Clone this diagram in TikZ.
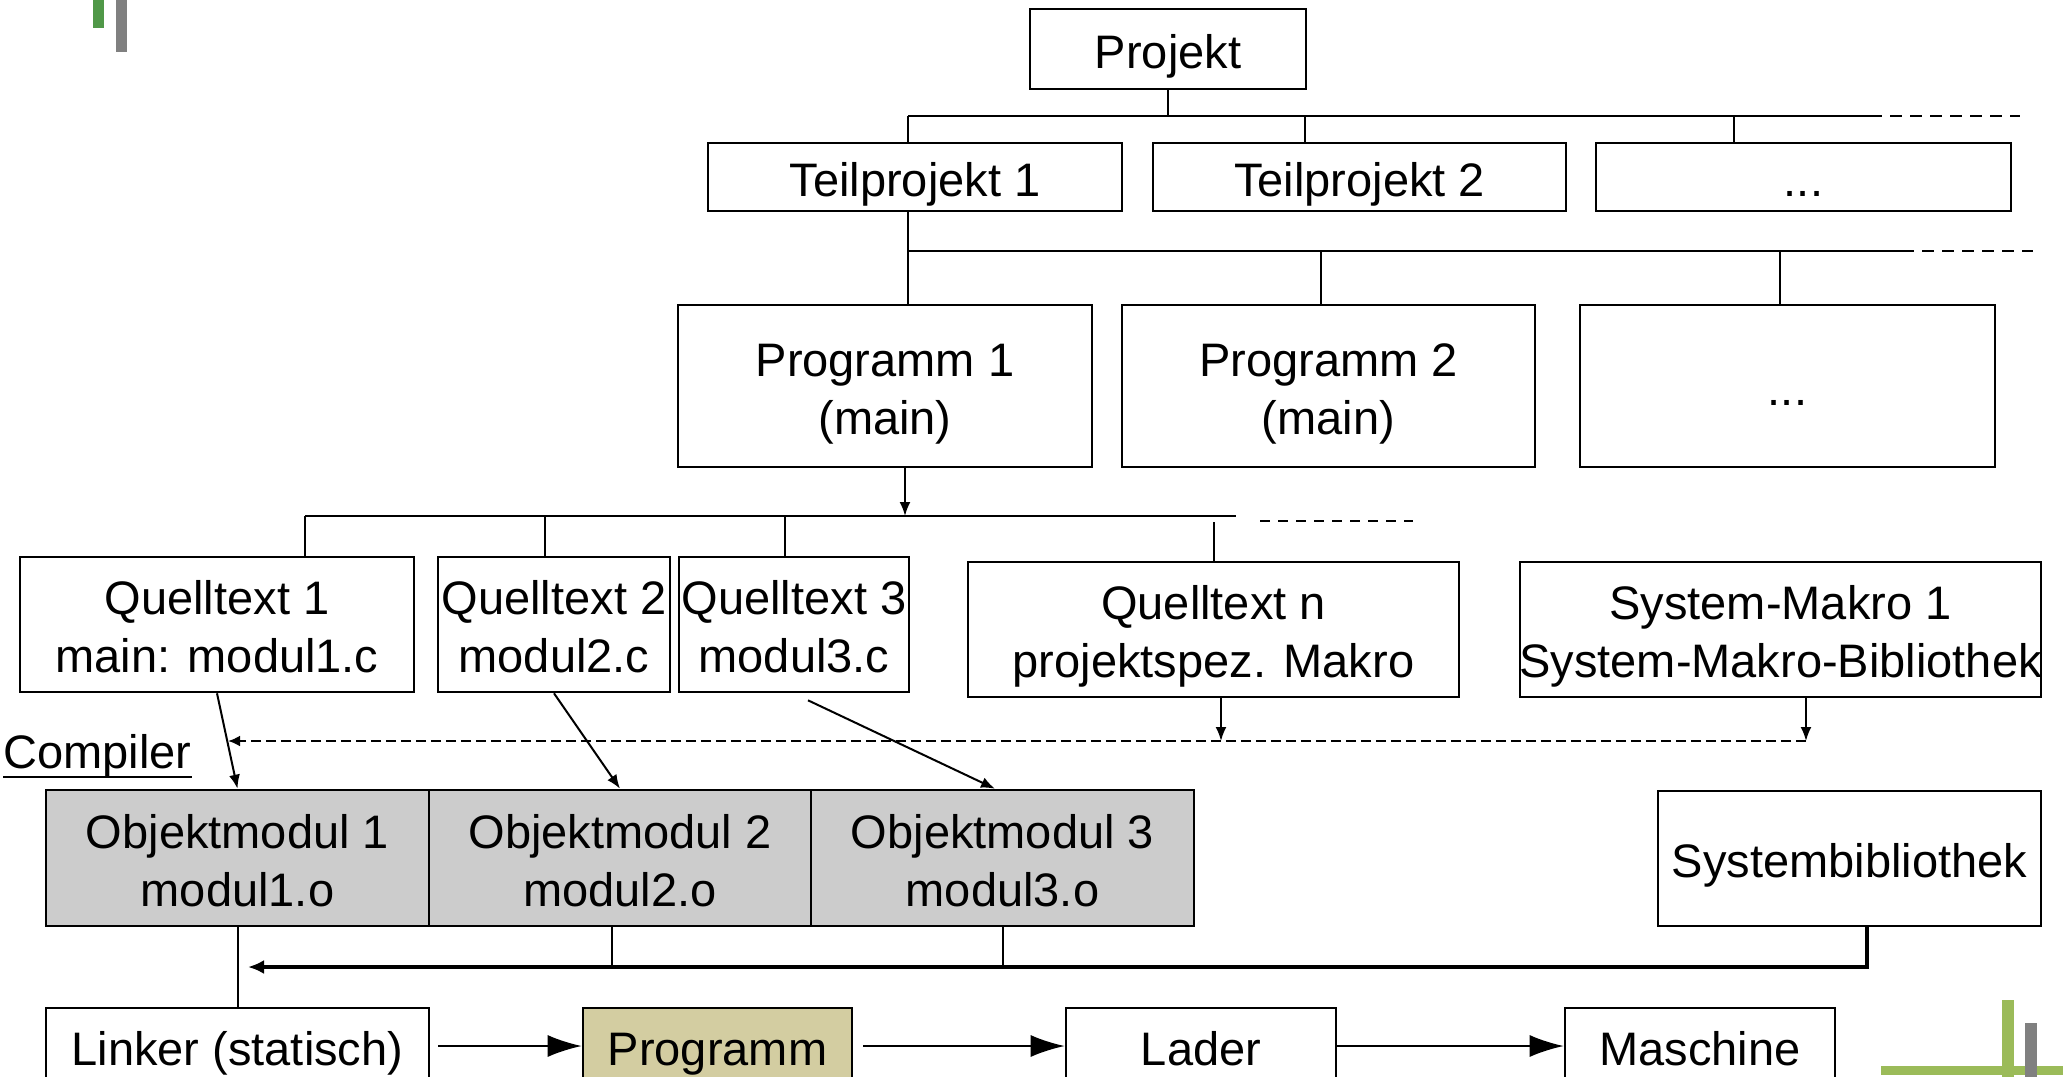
\documentclass[tikz,border=0pt]{standalone}
\usepackage{fontspec}
\setmainfont{Liberation Sans}
\usetikzlibrary{arrows.meta}
\definecolor{objgray}{RGB}{204,204,204}
\definecolor{proggold}{RGB}{211,205,161}
\definecolor{logogreen}{RGB}{80,152,72}
\definecolor{lightgreen}{RGB}{155,187,89}
\definecolor{logogray}{RGB}{128,128,128}
\newcommand\tophi{\rule{0pt}{1.07em}}
\newcommand\botlo{\rule[-0.25em]{0pt}{0.25em}}
\begin{document}
\begin{tikzpicture}[x=0.5pt, y=-0.5pt, font=\fontsize{23.5}{29}\selectfont,
  box/.style={draw, line width=1.3pt, inner sep=0pt, align=center},
  obj/.style={box, fill=objgray},
  link/.style={line width=1pt},
  small/.style={link, -{Latex[length=7pt,width=5.5pt]}},
  big/.style={link, -{Latex[length=17pt,width=11pt]}},
  more/.style={link, dash pattern=on 6pt off 4pt}]
\useasboundingbox (0,0) rectangle (2063,1077);
\clip (0,0) rectangle (2063,1077);
\fill[logogreen] (93,0) rectangle (104,28);
\fill[logogray] (116,0) rectangle (127,52);
\fill[lightgreen] (1881,1066) rectangle (2063,1075);
\fill[lightgreen] (2002,1000) rectangle (2014,1077);
\fill[logogray] (2025,1023) rectangle (2037,1077);
\node[box, minimum width=138pt, minimum height=40pt] (proj) at (1168,49) {\tophi Projekt\botlo};
\node[box, minimum width=207pt, minimum height=34pt] (teilA) at (915,177) {\tophi Teilprojekt 1\botlo};
\node[box, minimum width=206.5pt, minimum height=34pt] (teilB) at (1359.5,177) {\tophi Teilprojekt 2\botlo};
\node[box, minimum width=207.5pt, minimum height=34pt] (teilC) at (1803.5,177) {\tophi ...\botlo};
\node[box, minimum width=207pt, minimum height=81pt] (progA) at (885,386) {\tophi Programm 1\\(main)\botlo};
\node[box, minimum width=206.5pt, minimum height=81pt] (progB) at (1328.5,386) {\tophi Programm 2\\(main)\botlo};
\node[box, minimum width=207.5pt, minimum height=81pt] (progC) at (1787.5,386) {\tophi ...\botlo};
\node[box, minimum width=197pt, minimum height=67.5pt] (srcA) at (217,624.5) {\tophi Quelltext 1\\main: modul1.c\botlo};
\node[box, minimum width=116pt, minimum height=67.5pt] (srcB) at (554,624.5) {\tophi Quelltext 2\\modul2.c\botlo};
\node[box, minimum width=115pt, minimum height=67.5pt] (srcC) at (794,624.5) {\tophi Quelltext 3\\modul3.c\botlo};
\node[box, minimum width=245.5pt, minimum height=67.5pt] (srcN) at (1213.5,629.5) {\tophi Quelltext n\\projektspez. Makro\botlo};
\node[box, minimum width=260.5pt, minimum height=67.5pt] (macro) at (1780.5,629.5) {\tophi System-Makro 1\\\makebox[0pt]{System-Makro-Bibliothek}\botlo};
\node[anchor=base west, inner sep=0pt] (comp) at (3,768) {Compiler};
\node[obj, minimum width=191.5pt, minimum height=68pt] (objA) at (237.5,858) {\tophi Objektmodul 1\\modul1.o\botlo};
\node[obj, minimum width=191pt, minimum height=68pt] (objB) at (620,858) {\tophi Objektmodul 2\\modul2.o\botlo};
\node[obj, minimum width=191.5pt, minimum height=68pt] (objC) at (1002.5,858) {\tophi Objektmodul 3\\modul3.o\botlo};
\node[box, minimum width=191.5pt, minimum height=67.5pt] (syslib) at (1849.5,858.5) {\tophi Systembibliothek\botlo};
\node[box, minimum width=191.5pt, minimum height=38pt] (linker) at (237.5,1046) {\tophi Linker (statisch)\botlo};
\node[box, fill=proggold, minimum width=134.5pt, minimum height=38pt] (prog) at (717.5,1046) {\tophi Programm\botlo};
\node[box, minimum width=135pt, minimum height=38pt] (loader) at (1201,1046) {\tophi Lader\botlo};
\node[box, minimum width=135pt, minimum height=38pt] (machine) at (1700,1046) {\tophi Maschine\botlo};
\coordinate (busA) at (908,116);
\coordinate (busAend) at (1870,116);
\coordinate (busB) at (908,251);
\coordinate (busBend) at (1902,251);
\coordinate (busC) at (305,516);
\coordinate (busCend) at (1236,516);
\coordinate (dashR) at (1806,741);
\coordinate (dashL) at (228,741);
\coordinate (linkR) at (1867,967);
\coordinate (linkL) at (248,967);
\draw[line width=1pt] ([yshift=-4.5pt]comp.base west) -- ([yshift=-4.5pt]comp.base east);
\draw[link] (proj.south) -- (proj.south |- busA);
\draw[link] (busA) -- (busAend);
\draw[more] (busAend) -- (2020,116);
\foreach \x/\n in {908/teilA,1305/teilB,1734/teilC}
  \draw[link] (\x,116) -- (\x,0 |- \n.north);
\draw[link] (busB |- teilA.south) -- (busB |- progA.north);
\draw[link] (busB) -- (busBend);
\draw[more] (busBend) -- (2033,251);
\foreach \x/\n in {1321/progB,1780/progC}
  \draw[link] (\x,251) -- (\x,0 |- \n.north);
\draw[small] (905,0 |- progA.south) -- (905,0 |- busC);
\draw[link] (busC) -- (busCend);
\draw[link, dash pattern=on 5pt off 4pt] (1260,521) -- (1413,521);
\foreach \x/\n in {305/srcA,545/srcB,785/srcC}
  \draw[link] (\x,516) -- (\x,0 |- \n.north);
\draw[link] (1214,522) -- (1214,0 |- srcN.north);
\draw[small] (srcA.south) -- (objA.north);
\draw[small] (srcB.south) -- (objB.north);
\draw[small] ([xshift=7pt,yshift=-3.5pt]srcC.south) -- ([xshift=-3.75pt]objC.north);
\draw[small] (srcN.south -| 1221,0) -- (dashR -| 1221,0);
\draw[small] (macro.south -| dashR) -- (dashR);
\draw[link, line width=1.2pt, dash pattern=on 5pt off 2.5pt, -{Latex[length=6pt,width=5.5pt]}] (dashR) -- (dashL);
\draw[link] (612,0 |- objB.south) -- (612,0 |- linkL);
\draw[link] (objC.south) -- (objC.south |- linkL);
\draw[link, line width=1.6pt, -{Latex[length=8pt,width=7pt]}] (syslib.south -| linkR) -- (linkR) -- (linkL);
\draw[link] (objA.south) -- (linker.north);
\draw[big] ([xshift=4pt]linker.east) -- (prog.west);
\draw[big] ([xshift=5pt]prog.east) -- (loader.west);
\draw[big] (loader.east) -- (machine.west);
\end{tikzpicture}
\end{document}
